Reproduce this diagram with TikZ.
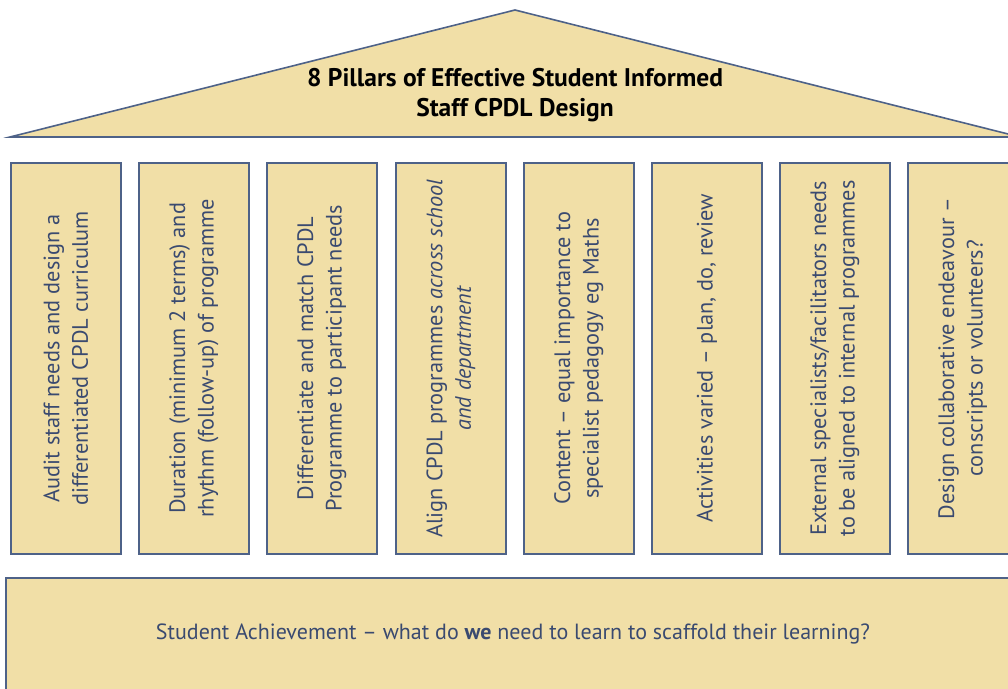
\documentclass[tikz,border=0pt]{standalone}
\usepackage{fontspec}
\setmainfont{PT Sans}
\definecolor{pfill}{HTML}{F1DFA7}
\definecolor{pdraw}{HTML}{4E6288}
\definecolor{ptext}{HTML}{3A4A70}
\begin{document}
\begin{tikzpicture}[x=1pt,y=-1pt,
  part/.style={fill=pfill,draw=pdraw,line width=1.6pt},
  pillar/.style={part,minimum width=110pt,minimum height=391pt,inner sep=0pt,anchor=north west},
  ptxt/.style={rotate=90,align=center,text=ptext,font=\fontsize{22.3}{28.5}\selectfont},
  ]
\useasboundingbox (0,0) rectangle (1008,688);
% roof
\coordinate (apex) at (515,10);
\coordinate (rl) at (10,137);
\coordinate (rr) at (1020,137);
\draw[part,line join=miter] (rl) -- (apex) -- (rr) -- cycle;
\node[align=center,font=\bfseries\fontsize{25.5}{30}\selectfont,text=black] (title) at (515,95)
  {8 Pillars of Effective Student Informed\\Staff CPDL Design};
% pillars
\foreach \i/\x/\t in {
  1/10/{Audit staff needs and design a\\differentiated CPDL curriculum},
  2/138/{Duration (minimum 2 terms) and\\rhythm (follow-up) of programme},
  3/266/{Differentiate and match CPDL\\Programme to participant needs},
  4/395/{Align CPDL programmes \textit{across school}\\\textit{and department}},
  5/523/{Content -- equal importance to\\specialist pedagogy eg Maths},
  6/651/{Activities varied -- plan, do, review},
  7/779/{External specialists/facilitators needs\\to be aligned to internal programmes},
  8/907/{Design collaborative endeavour --\\conscripts or volunteers?}}
{
  \node[pillar] (p\i) at (\x,162) {};
  \node[ptxt] (t\i) at (p\i.center) {\t};
}
% base
\node[part,minimum width=1016pt,minimum height=120pt,anchor=north west,inner sep=0pt] (base) at (5,577) {};
\node[text=ptext,font=\fontsize{22}{26}\selectfont] (btxt) at (513,634)
  {Student Achievement -- what do \textbf{we} need to learn to scaffold their learning?};
\end{tikzpicture}
\end{document}
